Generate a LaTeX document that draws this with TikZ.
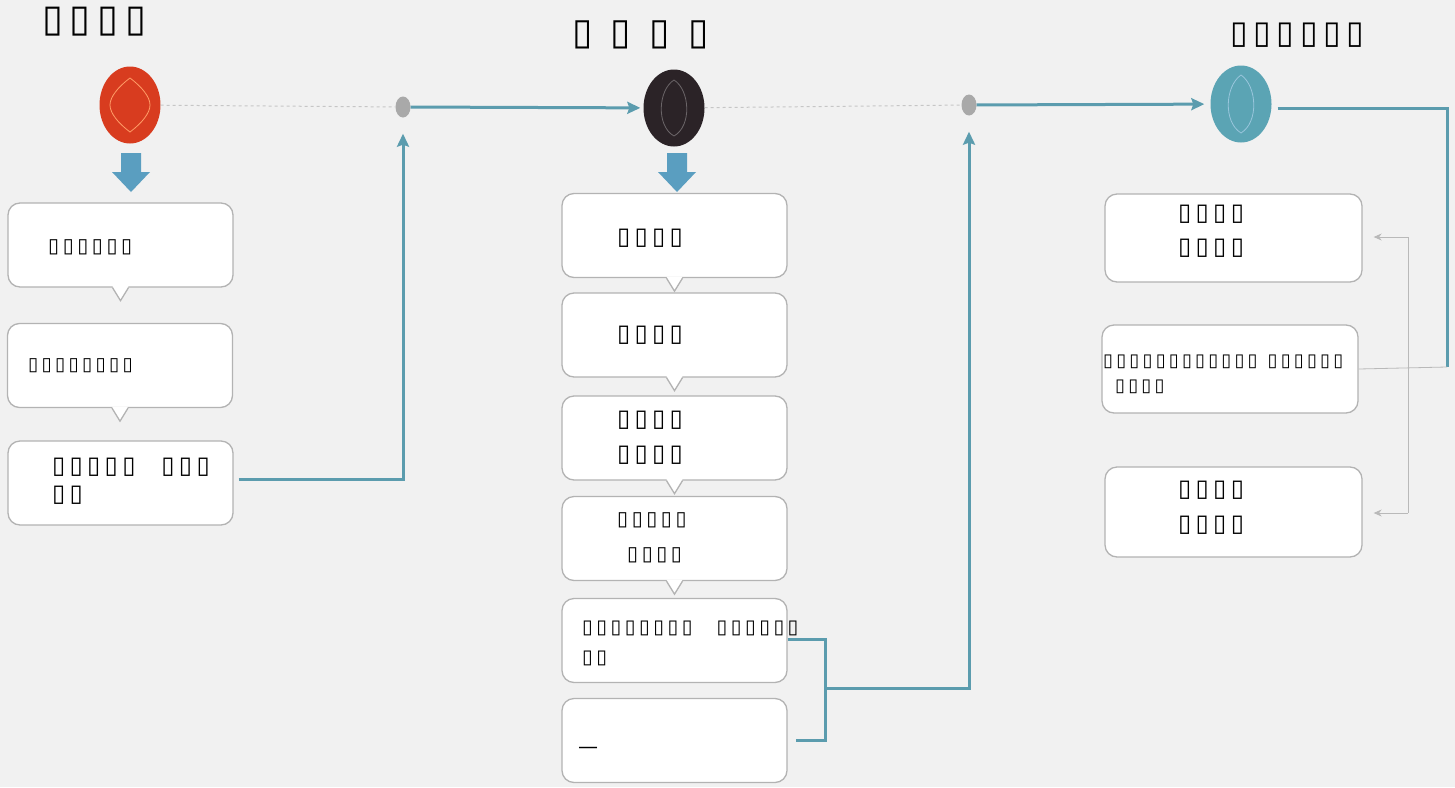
\documentclass[tikz,border=0pt]{standalone}
\usepackage{fontspec}
\newfontfamily\boxfont{DejaVu Sans}[LetterSpace=18]
\usetikzlibrary{arrows.meta,calc,shapes.geometric}

\definecolor{bgcol}{HTML}{F1F1F1}
\definecolor{boxline}{HTML}{B3B3B3}
\definecolor{flowcol}{HTML}{5B9CAE}
\definecolor{dropcol}{HTML}{5A9EC0}
\definecolor{redfill}{HTML}{D83C1F}
\definecolor{darkfill}{HTML}{2B2327}
\definecolor{tealfill}{HTML}{5BA4B4}
\definecolor{dotcol}{HTML}{A9A9A9}

\begin{document}
\begin{tikzpicture}[x=1pt,y=-1pt,
   bubble/.style={rectangle,draw=boxline,fill=white,line width=1.3pt,
    rounded corners=12pt,minimum width=225pt,minimum height=84pt,inner sep=0pt},
   stage/.style={ellipse,minimum width=61pt,minimum height=77pt,inner sep=0pt},
   dot/.style={ellipse,fill=dotcol,minimum width=15pt,minimum height=21pt,inner sep=0pt},
   flow/.style={draw=flowcol,line width=3pt},
   guide/.style={draw=gray!45,dashed,line width=1pt},
   link/.style={draw=gray!55,line width=0.8pt},
   txt/.style={anchor=west,inner sep=0pt},
   tip/.style={-{Stealth[length=13pt,width=12pt,inset=2pt]}}
    ]
  % -- background
  \fill[bgcol] (0,0) rectangle (1455,787);
  \useasboundingbox (0,0) rectangle (1455,787);

  % -- headings
  \node[txt] at (42,22) (h1) {\boxfont\fontsize{38}{40}\selectfont ▯▯▯▯};
  \node[txt] at (572,35) (h2) {\boxfont\fontsize{37}{40}\selectfont ▯ ▯ ▯ ▯};
  \node[txt] at (1230,35) (h3) {\boxfont\fontsize{32}{36}\selectfont ▯▯▯▯▯▯};

  % -- stages
  \node[stage,fill=redfill] at (130,105) (redC) {};
  \node[stage,fill=darkfill] at (674,108) (darkC) {};
  \node[stage,fill=tealfill] at (1241,104) (tealC) {};
  \draw[draw=orange!70!red!60,line width=0.8pt,shift={(130,105)}]
    (0,-27) .. controls (12,-18) and (20,-8) .. (20,0) .. controls (20,8) and (12,18) .. (0,27)
    .. controls (-12,18) and (-20,8) .. (-20,0) .. controls (-20,-8) and (-12,-18) .. (0,-27);
  \draw[draw=darkfill!70!white,line width=0.8pt,shift={(674,108)}]
    (0,-28) .. controls (16,-18) and (18,18) .. (0,28) .. controls (-18,18) and (-16,-18) .. (0,-28);
  \draw[draw=cyan!30!tealfill!60!white,line width=0.8pt,shift={(1241,104)}]
    (0,-29) .. controls (16,-18) and (18,18) .. (0,29) .. controls (-18,18) and (-16,-18) .. (0,-29);

  \node[dot] at (403,107) (dotA) {};
  \node[dot] at (969,105) (dotB) {};

  % -- drop arrows
  \foreach \x in {131,677}
    \fill[dropcol] (\x-10,153) -- (\x+10,153) -- (\x+10,172) -- (\x+19,172)
      -- (\x,192) -- (\x-19,172) -- (\x-10,172) -- cycle;

  % -- left column
  \node[bubble] at (120.5,245) (l1) {};
  \node[bubble] at (120,365.5) (l2) {};
  \node[bubble] at (120.5,483) (l3) {};
  % -- middle column
  \node[bubble] at (674.5,235.5) (m1) {};
  \node[bubble] at (674.5,335) (m2) {};
  \node[bubble] at (674.5,438) (m3) {};
  \node[bubble] at (674.5,538.5) (m4) {};
  \node[bubble] at (674.5,640.5) (m5) {};
  \node[bubble] at (674.5,740.5) (m6) {};
  % -- right column
  \node[bubble,minimum width=257pt,minimum height=88pt] at (1233.5,238) (r1) {};
  \node[bubble,minimum width=256pt,minimum height=88pt] at (1230,369) (r2) {};
  \node[bubble,minimum width=257pt,minimum height=90pt] at (1233.5,512) (r3) {};

  % -- notches
  \foreach \b in {l1,l2,m1,m2,m3,m4} {
    \fill[white] ($(\b.south)+(-8,-1.5)$) -- ($(\b.south)+(0,13)$) -- ($(\b.south)+(8,-1.5)$) -- cycle;
    \draw[boxline,line width=1.3pt] ($(\b.south)+(-8,0)$) -- ($(\b.south)+(0,13)$) -- ($(\b.south)+(8,0)$);
  }

  % -- box texts
  \node[txt] at (48,247) (l1t) {\boxfont\fontsize{20}{24}\selectfont ▯▯▯▯▯▯};
  \node[txt] at (28,366) (l2t) {\boxfont\fontsize{18.5}{24}\selectfont ▯▯▯▯▯▯▯▯};
  \node[txt] at (52,467) (l3t) {\boxfont\fontsize{24}{28}\selectfont ▯▯▯▯▯\hspace{26pt}▯▯▯};
  \node[txt] at (52,495) (l3u) {\boxfont\fontsize{24}{28}\selectfont ▯▯};
  \node[txt] at (617,238) (m1t) {\boxfont\fontsize{24}{28}\selectfont ▯▯▯▯};
  \node[txt] at (617,335) (m2t) {\boxfont\fontsize{24}{28}\selectfont ▯▯▯▯};
  \node[txt] at (617,420) (m3t) {\boxfont\fontsize{24}{28}\selectfont ▯▯▯▯};
  \node[txt] at (617,455) (m3u) {\boxfont\fontsize{24}{28}\selectfont ▯▯▯▯};
  \node[txt] at (617,520) (m4t) {\boxfont\fontsize{20}{24}\selectfont ▯▯▯▯▯};
  \node[txt] at (627,555) (m4u) {\boxfont\fontsize{20}{24}\selectfont ▯▯▯▯};
  \node[txt] at (582,628) (m5t) {\boxfont\fontsize{19.5}{24}\selectfont ▯▯▯▯▯▯▯▯\hspace{24pt}▯▯▯▯▯▯};
  \node[txt] at (582,658) (m5u) {\boxfont\fontsize{19.5}{24}\selectfont ▯▯};
  \node[txt] at (578,750) (m6t) {\boxfont\fontsize{20}{24}\selectfont —};
  \node[txt] at (1178,214) (r1t) {\boxfont\fontsize{24}{28}\selectfont ▯▯▯▯};
  \node[txt] at (1178,248) (r1u) {\boxfont\fontsize{24}{28}\selectfont ▯▯▯▯};
  \node[txt] at (1103,362) (r2t) {\boxfont\fontsize{18}{22}\selectfont ▯▯▯▯▯▯▯▯▯▯▯▯\hspace{10pt}▯▯▯▯▯▯};
  \node[txt] at (1115,387) (r2u) {\boxfont\fontsize{18}{22}\selectfont ▯▯▯▯};
  \node[txt] at (1178,490) (r3t) {\boxfont\fontsize{24}{28}\selectfont ▯▯▯▯};
  \node[txt] at (1178,525) (r3u) {\boxfont\fontsize{24}{28}\selectfont ▯▯▯▯};

  % -- timeline
  \draw[guide] (redC) -- (dotA);
  \draw[guide] (darkC) -- (dotB);
  \draw[flow,tip,shorten >=3pt] (dotA) -- (darkC);
  \draw[flow,tip,shorten >=6pt] (dotB) -- (tealC);

  % -- feeds into the dots
  \draw[flow,tip,shorten <=5pt,shorten >=16pt] ([yshift=4pt]l3.east) -| (dotA.south);
  \coordinate (mj) at (825,688);
  \draw[flow] ([yshift=1.5pt]m5.east) -| (mj) |- ([xshift=8pt]m6.east);
  \draw[flow,tip,shorten >=16pt] (mj) -| (dotB.south);

  % -- right side
  \coordinate (rj) at (1447,367);
  \draw[flow] ([xshift=6pt,yshift=-4pt]tealC.east) -| (rj);
  \draw[link] (rj) -- (r2.east);
  \coordinate (rb1) at (1408,237);
  \coordinate (rb2) at (1408,513);
  \draw[link] (rb1) -- (rb2);
  \draw[link,-{Stealth[length=8pt,width=7pt]},shorten >=11pt] (rb1) -- (r1.east|-rb1);
  \draw[link,-{Stealth[length=8pt,width=7pt]},shorten >=11pt] (rb2) -- (r3.east|-rb2);

\end{tikzpicture}
\end{document}
